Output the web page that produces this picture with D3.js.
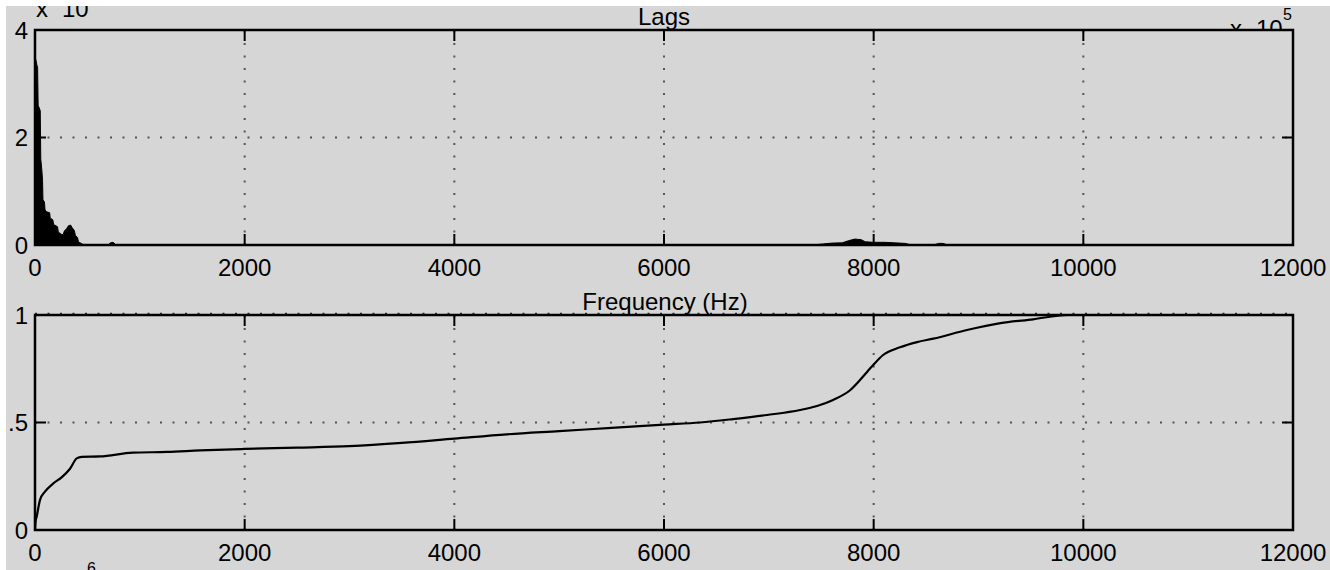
<!DOCTYPE html>
<html>
<head>
<meta charset="utf-8">
<script src="https://cdn.jsdelivr.net/npm/d3@7"></script>
<style>
  html, body { margin: 0; padding: 0; background: #d6d6d6; }
  svg { display: block; }
  text { font-family: "Liberation Sans", Arial, Helvetica, sans-serif; fill: #000; }
</style>
</head>
<body>
<svg id="chart" width="1330" height="570"></svg>
<script>
// ---------- data ----------
const xTicks = [0, 2000, 4000, 6000, 8000, 10000, 12000];
const xTickLabels = ["0", "2000", "4000", "6000", "8000", "10000", "12000"];
const lagYTicks = [0, 2, 4];
const lagYLabels = ["0", "2", "4"];
const cumYTicks = [0, 0.5, 1];
const cumYLabels = ["0", ".5", "1"];

// top panel (values in units of 10^5)
const lagFreq = [0, 8, 18, 25, 30, 40, 50, 55, 65, 72, 76, 90, 96, 110, 140, 145, 170, 178, 215, 222, 250, 268, 280, 300, 320, 340, 355, 375, 385, 405, 415, 440, 460, 700, 720, 745, 770, 7450, 7520, 7600, 7700, 7760, 7820, 7880, 7920, 8000, 8100, 8200, 8300, 8350, 8580, 8620, 8660, 8700, 12000];
const lagVal  = [3.45, 3.45, 3.35, 3.3, 2.6, 2.55, 2.5, 1.6, 1.4, 1.2, 0.84, 0.8, 0.65, 0.62, 0.6, 0.5, 0.47, 0.38, 0.34, 0.24, 0.2, 0.19, 0.26, 0.3, 0.36, 0.37, 0.32, 0.27, 0.18, 0.14, 0.06, 0.03, 0.01, 0.005, 0.04, 0.05, 0.005, 0.005, 0.02, 0.035, 0.04, 0.08, 0.11, 0.1, 0.06, 0.05, 0.05, 0.04, 0.03, 0.005, 0.005, 0.03, 0.03, 0.005, 0.005];

// bottom panel (cumulative fraction)
const cumFreq = [0, 6, 16, 48, 95, 175, 254, 334, 398, 445, 620, 935, 1260, 1574, 2000, 2500, 3000, 3500, 4000, 4500, 5000, 5500, 6000, 6344, 6660, 6983, 7298, 7460, 7613, 7775, 7937, 8000, 8090, 8252, 8414, 8570, 8890, 9210, 9520, 9850, 12000];
const cumVal  = [0, 0.04, 0.062, 0.14, 0.178, 0.217, 0.245, 0.285, 0.333, 0.34, 0.342, 0.36, 0.363, 0.37, 0.377, 0.383, 0.39, 0.405, 0.425, 0.445, 0.46, 0.475, 0.49, 0.5, 0.516, 0.535, 0.558, 0.577, 0.605, 0.65, 0.735, 0.77, 0.814, 0.85, 0.874, 0.89, 0.93, 0.962, 0.98, 1.0, 1.0];

// ---------- layout ----------
const W = 1330, H = 570, BG = "#d6d6d6";
const FS = 24;
const svg = d3.select("#chart");
svg.append("rect").attr("width", W).attr("height", H).attr("fill", BG);

const x = d3.scaleLinear().domain([0, 12000]).range([35, 1293]);
const yTop = d3.scaleLinear().domain([0, 4]).range([245, 30]);
const yBot = d3.scaleLinear().domain([0, 1]).range([530, 315]);

// exponent label that is partly hidden behind the top axes
const tr = svg.append("text").attr("x", 1230).attr("y", 37).attr("font-size", FS);
tr.append("tspan").text("x");
tr.append("tspan").attr("dx", 14).text("10");
svg.append("text").attr("x", 1283).attr("y", 20).attr("font-size", 16).text("5");

function panel(y, yTicks, yLabels, drawData, topGridOnBorder) {
  const g = svg.append("g");
  const x0 = x.range()[0], x1 = x.range()[1];
  const yb = y.range()[0], yt = y.range()[1];
  g.append("rect").attr("x", x0).attr("y", yt).attr("width", x1 - x0).attr("height", yb - yt).attr("fill", BG);

  // grid
  const grid = g.append("g").attr("stroke", "#555").attr("stroke-width", 2).attr("stroke-dasharray", "2,10.5");
  xTicks.slice(1, -1).forEach(t => {
    grid.append("line").attr("x1", x(t)).attr("x2", x(t)).attr("y1", yb).attr("y2", yt);
  });
  yTicks.slice(1, -1).forEach(t => {
    grid.append("line").attr("x1", x0).attr("x2", x1).attr("y1", y(t)).attr("y2", y(t));
  });

  drawData(g);

  // box
  g.append("rect").attr("x", x0).attr("y", yt).attr("width", x1 - x0).attr("height", yb - yt)
    .attr("fill", "none").attr("stroke", "#000").attr("stroke-width", 2.5);
  if (topGridOnBorder) {
    g.append("line").attr("x1", x0).attr("x2", x1).attr("y1", yt - 1.5).attr("y2", yt - 1.5)
      .attr("stroke", "#222").attr("stroke-width", 1.5).attr("stroke-dasharray", "2,10.5");
  }

  // ticks inward
  const TL = 11;
  const tk = g.append("g").attr("stroke", "#000").attr("stroke-width", 2);
  xTicks.forEach(t => {
    tk.append("line").attr("x1", x(t)).attr("x2", x(t)).attr("y1", yb).attr("y2", yb - TL);
    tk.append("line").attr("x1", x(t)).attr("x2", x(t)).attr("y1", yt).attr("y2", yt + TL);
  });
  yTicks.forEach(t => {
    tk.append("line").attr("x1", x0).attr("x2", x0 + TL).attr("y1", y(t)).attr("y2", y(t));
    tk.append("line").attr("x1", x1).attr("x2", x1 - TL).attr("y1", y(t)).attr("y2", y(t));
  });

  // labels
  xTicks.forEach((t, i) => {
    g.append("text").attr("x", x(t)).attr("y", yb + 31).attr("text-anchor", "middle")
      .attr("font-size", FS).text(xTickLabels[i]);
  });
  yTicks.forEach((t, i) => {
    g.append("text").attr("x", 28).attr("y", y(t) + 8.5).attr("text-anchor", "end")
      .attr("font-size", FS).text(yLabels[i]);
  });
}

// top panel: filled spectrum
panel(yTop, lagYTicks, lagYLabels, g => {
  const data = lagFreq.map((f, i) => [f, lagVal[i]]);
  const area = d3.area().x(d => x(d[0])).y0(yTop(0)).y1(d => yTop(d[1]));
  g.append("path").datum(data).attr("d", area).attr("fill", "#000").attr("stroke", "#000").attr("stroke-width", 1);
}, false);

// bottom panel: cumulative curve
panel(yBot, cumYTicks, cumYLabels, g => {
  const data = cumFreq.map((f, i) => [f, cumVal[i]]);
  const line = d3.line().x(d => x(d[0])).y(d => yBot(d[1])).curve(d3.curveMonotoneX);
  g.append("path").datum(data).attr("d", line).attr("fill", "none").attr("stroke", "#000").attr("stroke-width", 2.2);
}, true);

// titles / labels
svg.append("text").attr("x", 664).attr("y", 25).attr("text-anchor", "middle").attr("font-size", FS).text("Lags");
svg.append("text").attr("x", 665).attr("y", 310).attr("text-anchor", "middle").attr("font-size", FS).text("Frequency (Hz)");

const tl = svg.append("text").attr("x", 36).attr("y", 17).attr("font-size", FS);
tl.append("tspan").text("x");
tl.append("tspan").attr("dx", 14).text("10");

svg.append("text").attr("x", 87).attr("y", 574).attr("font-size", 16).text("6");

// white margins of the original capture
svg.append("rect").attr("x", 0).attr("y", 0).attr("width", W).attr("height", 6).attr("fill", "#fff");
svg.append("rect").attr("x", 0).attr("y", 0).attr("width", 6).attr("height", H).attr("fill", "#fff");
</script>
</body>
</html>
